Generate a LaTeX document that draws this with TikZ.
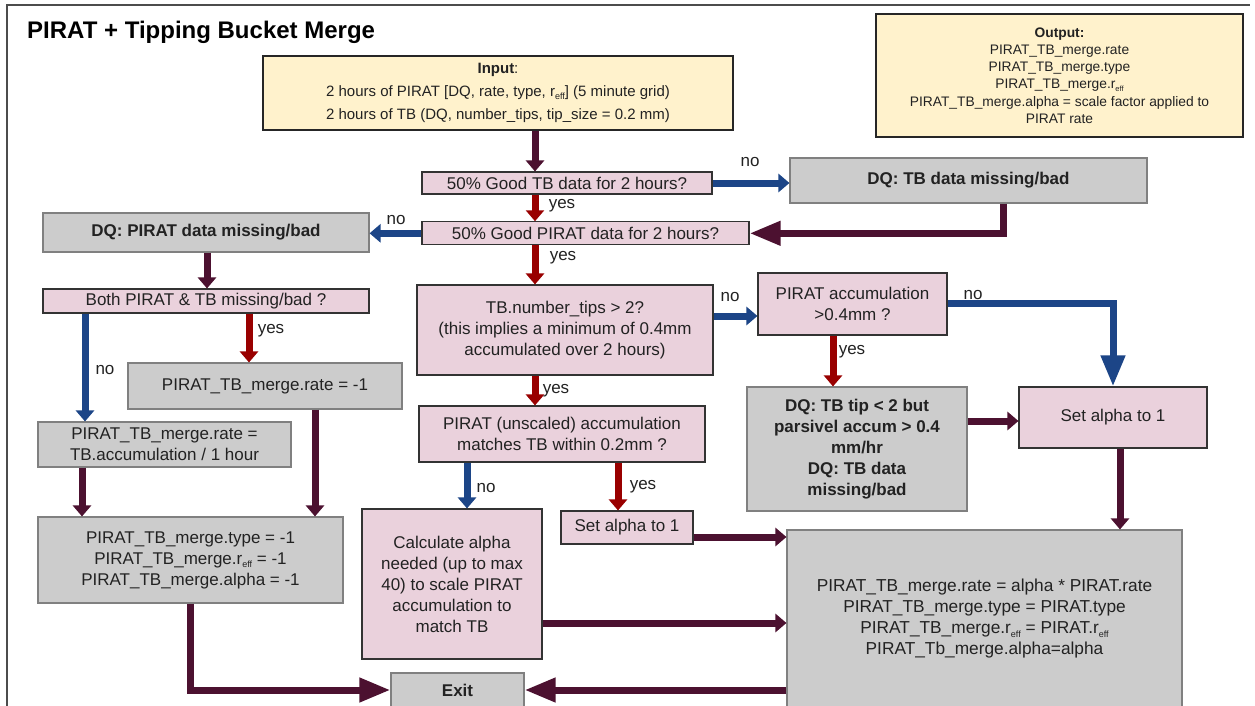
\documentclass[tikz,border=0pt]{standalone}
\usepackage{fontspec}
\setmainfont{Liberation Sans}
\usetikzlibrary{arrows.meta}
\definecolor{pinkF}{HTML}{EAD1DC}
\definecolor{grayF}{HTML}{CCCCCC}
\definecolor{yellowF}{HTML}{FFF2CC}
\definecolor{maroonA}{HTML}{4C1130}
\definecolor{redA}{HTML}{990000}
\definecolor{blueA}{HTML}{1C4587}
\definecolor{inkC}{HTML}{222222}
% subscript "eff" for the effective radius
\newcommand{\effsub}{\raisebox{-0.35ex}{\fontsize{9}{9}\selectfont eff}}
\newcommand{\effsubsm}{\raisebox{-0.35ex}{\fontsize{7.5}{7.5}\selectfont eff}}
\begin{document}
\begin{tikzpicture}[x=1pt,y=-1pt,
  box/.style={rectangle, inner sep=2pt, align=center, text=inkC,
    font=\fontsize{17}{21}\selectfont, line width=1.1pt},
  pinkbox/.style={box, fill=pinkF, draw=black!80},
  graybox/.style={box, fill=grayF, draw=black!50},
  yellowbox/.style={box, fill=yellowF, draw=black!85},
  bold/.style={font=\fontsize{17}{21}\selectfont\bfseries},
  flow/.style={line width=7pt, -{Triangle[length=11pt,width=18pt]}},
  bigflow/.style={line width=7pt, -{Triangle[length=31pt,width=23pt]}},
  mcol/.style={draw=maroonA},
  rcol/.style={draw=redA},
  bcol/.style={draw=blueA},
  lbl/.style={inner sep=0pt, text=inkC, font=\fontsize{17}{20}\selectfont}
]
\clip (0,0) rectangle (1255,706);
\fill[white] (0,0) rectangle (1255,706);

% slide frame
\draw[black!70, line width=1.2pt] (7,720) -- (7,5) -- (1250,5);

% title
\node[anchor=base west, inner sep=0pt, text=black,
  font=\fontsize{24}{27}\selectfont\bfseries] (title) at (27,39)
  {PIRAT + Tipping Bucket Merge};

% input / output
\node[yellowbox, minimum width=470pt, minimum height=74pt,
  font=\fontsize{15}{23}\selectfont] (input) at (498,93)
  {\textbf{Input}:\\ 2 hours of PIRAT [DQ, rate, type, r\effsub] (5 minute grid)\\
   2 hours of TB (DQ, number\_tips, tip\_size = 0.2 mm)};
\node[yellowbox, minimum width=367pt, minimum height=123pt,
  font=\fontsize{13.8}{17.2}\selectfont] (output) at (1059.5,75.5)
  {\textbf{Output:}\\ PIRAT\_TB\_merge.rate\\ PIRAT\_TB\_merge.type\\
   PIRAT\_TB\_merge.r\effsubsm\\ PIRAT\_TB\_merge.alpha = scale factor applied to\\
   PIRAT rate};

% data quality checks
\node[pinkbox, minimum width=290pt, minimum height=22pt] (q1) at (567,183)
  {50\% Good TB data for 2 hours?};
\node[graybox, bold, minimum width=357pt, minimum height=45pt] (dqtb) at (968.5,180.5)
  {DQ: TB data missing/bad};
\node[pinkbox, minimum width=327pt, minimum height=23pt] (q2) at (585.5,233.3)
  {50\% Good PIRAT data for 2 hours?};
\node[graybox, bold, minimum width=326pt, minimum height=39pt] (dqpirat) at (206,232.5)
  {DQ: PIRAT data missing/bad};

% left branch: PIRAT missing
\node[pinkbox, minimum width=326pt, minimum height=24pt] (both) at (206,301)
  {Both PIRAT \& TB missing/bad ?};
\node[graybox, minimum width=274pt, minimum height=46pt] (rateneg) at (265,386)
  {PIRAT\_TB\_merge.rate = -1};
\node[graybox, minimum width=253pt, minimum height=45pt] (ratetb) at (164.5,444.5)
  {PIRAT\_TB\_merge.rate =\\ TB.accumulation / 1 hour};
\node[graybox, minimum width=305pt, minimum height=86pt] (typeneg) at (190.5,560)
  {PIRAT\_TB\_merge.type = -1\\ PIRAT\_TB\_merge.r\effsub{} = -1\\
   PIRAT\_TB\_merge.alpha = -1};

% middle / right branch
\node[pinkbox, minimum width=296pt, minimum height=90pt] (tips) at (565,330)
  {TB.number\_tips > 2?\\ (this implies a minimum of 0.4mm\\ accumulated over 2 hours)};
\node[pinkbox, minimum width=189pt, minimum height=62pt] (paccum) at (852.5,304)
  {PIRAT accumulation\\ >0.4mm ?};
\node[graybox, bold, minimum width=220pt, minimum height=124pt] (dqtip) at (857,449)
  {DQ: TB tip < 2 but\\ parsivel accum > 0.4\\ mm/hr\\ DQ: TB data\\ missing/bad};
\node[pinkbox, minimum width=188pt, minimum height=61pt] (setr) at (1113,417.5)
  {Set alpha to 1};
\node[pinkbox, minimum width=286pt, minimum height=56pt] (unscaled) at (562,434)
  {PIRAT (unscaled) accumulation\\ matches TB within 0.2mm ?};
\node[pinkbox, minimum width=180pt, minimum height=150pt] (calc) at (452,584)
  {Calculate alpha\\ needed (up to max\\ 40) to scale PIRAT\\ accumulation to\\ match TB};
\node[pinkbox, minimum width=132pt, minimum height=33pt] (setm) at (627,527.5)
  {Set alpha to 1};
\node[graybox, minimum width=395pt, minimum height=178pt,
  font=\fontsize{17.3}{21}\selectfont] (final) at (984.5,619)
  {PIRAT\_TB\_merge.rate = alpha * PIRAT.rate\\ PIRAT\_TB\_merge.type = PIRAT.type\\
   PIRAT\_TB\_merge.r\effsub{} = PIRAT.r\effsub\\ PIRAT\_Tb\_merge.alpha=alpha};
\node[graybox, bold, minimum width=133pt, minimum height=34pt] (exit) at (457.5,690)
  {Exit};

% connectors
\draw[flow, mcol] (input.south -| 535,0) -- (q1.north -| 535,0);
\draw[flow, bcol] (q1.east |- 0,183) -- (dqtb.west |- 0,183);
\draw[flow, rcol] (q1.south -| 535,0) -- (q2.north -| 535,0);
\draw[bigflow, mcol] (dqtb.south -| 1003,0) |- (q2.east);
\draw[flow, bcol] (q2.west) -- (dqpirat.east |- q2.west);
\draw[flow, rcol] (q2.south -| 535,0) -- (tips.north -| 535,0);
\draw[flow, mcol] (dqpirat.south -| 207,0) -- (both.north -| 207,0);
\draw[flow, rcol] (both.south -| 249,0) -- (rateneg.north -| 249,0);
\draw[flow, bcol] (both.south -| 85,0) -- (ratetb.north -| 85,0);
\draw[flow, mcol] (rateneg.south -| 315,0) -- (typeneg.north -| 315,0);
\draw[flow, mcol] (ratetb.south -| 82,0) -- (typeneg.north -| 82,0);
\draw[bigflow, mcol] (typeneg.south) |- (exit.west);
\draw[flow, bcol] (tips.east |- 0,316) -- (paccum.west |- 0,316);
\draw[flow, rcol] (tips.south -| 535,0) -- (unscaled.north -| 535,0);
\draw[flow, rcol] (paccum.south -| 833,0) -- (dqtip.north -| 833,0);
\draw[bigflow, bcol] (paccum.east |- 0,303) -| (setr.north);
\draw[flow, mcol] (dqtip.east |- 0,421) -- (setr.west |- 0,421);
\draw[flow, mcol] (setr.south -| 1120,0) -- (final.north -| 1120,0);
\draw[flow, bcol] (unscaled.south -| 467,0) -- (calc.north -| 467,0);
\draw[flow, rcol] (unscaled.south -| 618,0) -- (setm.north -| 618,0);
\draw[flow, mcol] (setm.east |- 0,537) -- (final.west |- 0,537);
\draw[flow, mcol] (calc.east |- 0,623) -- (final.west |- 0,623);
\draw[bigflow, mcol] (final.west |- exit.east) -- (exit.east);

% branch labels
\node[lbl] (l1) at (750,162) {no};
\node[lbl] (l2) at (562,206) {yes};
\node[lbl] (l3) at (396,220) {no};
\node[lbl] (l4) at (563,258) {yes};
\node[lbl] (l5) at (271,331) {yes};
\node[lbl] (l6) at (105,370) {no};
\node[lbl] (l7) at (730,297) {no};
\node[lbl] (l8) at (556,391) {yes};
\node[lbl] (l9) at (852,352) {yes};
\node[lbl] (l10) at (973,295) {no};
\node[lbl] (l11) at (486,488) {no};
\node[lbl] (l12) at (643,487) {yes};
\end{tikzpicture}
\end{document}
